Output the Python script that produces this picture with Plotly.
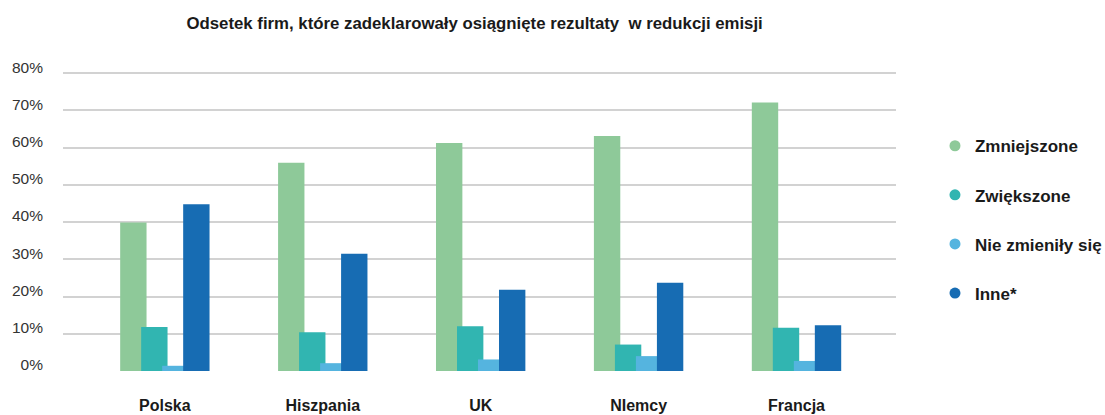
import plotly.graph_objects as go

# Countries shown on the x axis
countries = ["Polska", "Hiszpania", "UK", "NIemcy", "Francja"]

# Share of firms (%) per declared result
zmniejszone = [39.9, 55.9, 61.2, 63.1, 72.1]
zwiekszone = [11.8, 10.4, 12.0, 7.1, 11.6]
nie_zmienily = [1.4, 2.1, 3.1, 4.0, 2.7]
inne = [44.8, 31.5, 21.8, 23.7, 12.3]

series_names = ["Zmniejszone", "Zwiększone", "Nie zmieniły się", "Inne*"]
series_values = [zmniejszone, zwiekszone, nie_zmienily, inne]
colors = ["#8ec999", "#31b5b1", "#55b4df", "#176cb3"]

y_ticks = [0, 10, 20, 30, 40, 50, 60, 70, 80]
y_tick_labels = [f"{v}%" for v in y_ticks]

# Bars inside a group slightly overlap each other
bar_width = 0.167
bar_step = 0.133
first_offset = -0.283

x_pos = list(range(len(countries)))

fig = go.Figure()
for i, (name, vals, col) in enumerate(zip(series_names, series_values, colors)):
    fig.add_trace(go.Bar(
        x=x_pos, y=vals, name=name,
        marker=dict(color=col, line=dict(width=0)),
        width=bar_width, offset=first_offset + i * bar_step,
        showlegend=False, hoverinfo="y",
    ))

# Circular legend markers
for i, (name, col) in enumerate(zip(series_names, colors)):
    fig.add_trace(go.Scatter(
        x=[None], y=[None], mode="markers", name=name,
        marker=dict(color=col, size=11, symbol="circle"),
        legendgroup=f"g{i}", showlegend=True,
    ))

fig.update_layout(
    width=1105, height=415,
    margin=dict(l=63, r=209, t=72, b=44, autoexpand=False),
    plot_bgcolor="white", paper_bgcolor="white",
    barmode="overlay",
    title=dict(
        text="Odsetek firm, które zadeklarowały osiągnięte rezultaty  w redukcji emisji",
        font=dict(family="Liberation Sans, Arial", size=16.8,
                  color="#1a1a1a", weight="bold"),
        x=0.4295, xanchor="center", xref="container",
        y=0.945, yanchor="middle", yref="container",
    ),
    xaxis=dict(
        range=[-0.645, 4.63],
        tickmode="array", tickvals=x_pos, ticktext=countries,
        showgrid=False, zeroline=False, showline=False,
        ticks="", ticklabelstandoff=23,
        tickfont=dict(family="Liberation Sans, Arial", size=16,
                      color="#1a1a1a", weight="bold"),
        fixedrange=True,
    ),
    yaxis=dict(
        range=[0, 80.3],
        tickmode="array", tickvals=y_ticks, ticktext=y_tick_labels,
        showgrid=True, gridcolor="#d2d2d2", gridwidth=1.5,
        zeroline=False, showline=False, ticks="",
        ticklabelstandoff=19, ticklabelshift=-6,
        tickfont=dict(family="Liberation Sans, Arial", size=15.5, color="#333333"),
        fixedrange=True,
    ),
    legend=dict(
        x=1.0468, xanchor="left", xref="paper",
        y=0.812, yanchor="top",
        font=dict(family="Liberation Sans, Arial", size=17, color="#1a1a1a", weight="bold"),
        tracegroupgap=24, bgcolor="rgba(0,0,0,0)",
    ),
    showlegend=True,
)

fig.write_html("out.html")
